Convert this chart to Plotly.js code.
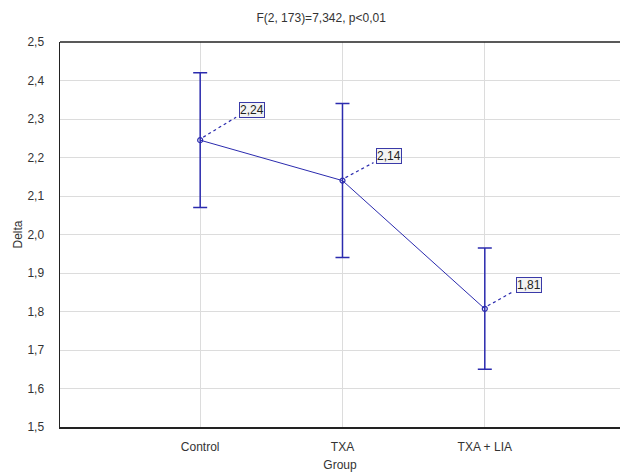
<!DOCTYPE html>
<html>
<head>
<meta charset="utf-8">
<script src="https://cdn.plot.ly/plotly-3.0.1.min.js"></script>
<style>html,body{margin:0;padding:0;background:#fff;overflow:hidden;}#chart{width:620px;height:475px;}</style>
</head>
<body>
<div id="chart"></div>
<script>
// ---- data ----
const groups = ["Control", "TXA", "TXA + LIA"];
const means = [2.245, 2.14, 1.807];
const ciUpper = [2.42, 2.34, 1.965];
const ciLower = [2.07, 1.94, 1.65];
const labels = ["2,24", "2,14", "1,81"];
const yTicks = [1.5, 1.6, 1.7, 1.8, 1.9, 2.0, 2.1, 2.2, 2.3, 2.4, 2.5];
const titleText = "F(2, 173)=7,342, p<0,01";

// ---- styles ----
const blue = "#2b2bae";
const font = "Liberation Sans, Arial, sans-serif";
const labelOffsets = [[52, -30], [47, -25], [44, -24]];
const W = 620, H = 475, M = {l: 60, r: 0, t: 42, b: 48};
const xRange = [-0.985, 2.95], yRange = [1.5, 2.5];
// pixel -> data unit conversion for the leader lines
const pxX = (xRange[1] - xRange[0]) / (W - M.l - M.r);
const pxY = (yRange[1] - yRange[0]) / (H - M.t - M.b);

const xs = groups.map((g, i) => i);

const trace = {
  x: xs,
  y: means,
  type: "scatter",
  mode: "lines+markers",
  line: {color: blue, width: 1},
  marker: {symbol: "circle-open", size: 5, color: blue, line: {width: 1.2, color: blue}},
  error_y: {
    type: "data",
    symmetric: false,
    array: ciUpper.map((u, i) => u - means[i]),
    arrayminus: means.map((m, i) => m - ciLower[i]),
    color: blue,
    thickness: 1.5,
    width: 7
  },
  hoverinfo: "skip"
};

const annotations = means.map((m, i) => ({
  x: xs[i], y: m, xref: "x", yref: "y",
  text: labels[i],
  showarrow: true,
  arrowcolor: "rgba(0,0,0,0)",
  ax: labelOffsets[i][0], ay: labelOffsets[i][1],
  font: {family: font, size: 12, color: "#222"},
  bgcolor: "#f3f3f3",
  bordercolor: "#3a3aa8",
  borderwidth: 1,
  borderpad: 0
}));

const shapes = means.map((m, i) => ({
  type: "line",
  xref: "x", yref: "y",
  x0: xs[i] + 3 * pxX, y0: m + 3 * pxY,
  x1: xs[i] + (labelOffsets[i][0] - 16) * pxX,
  y1: m + (-labelOffsets[i][1] - 7) * pxY,
  line: {color: blue, width: 1.2, dash: "3px,3px"}
}));
// top frame line of the plot area
shapes.push({
  type: "line", xref: "paper", yref: "paper",
  x0: 0, x1: 1, y0: 1, y1: 1,
  line: {color: "#222", width: 1.5}
});

const layout = {
  width: W, height: H,
  margin: M,
  paper_bgcolor: "#fff",
  plot_bgcolor: "#fff",
  showlegend: false,
  font: {family: font, size: 12, color: "#333"},
  title: {text: titleText, x: 0.518, xanchor: "center", y: 0.962, yanchor: "middle",
          font: {family: font, size: 12, color: "#333"}},
  xaxis: {
    range: xRange,
    tickmode: "array",
    tickvals: xs, ticktext: groups,
    showgrid: true, gridcolor: "#dcdcdc", gridwidth: 1,
    zeroline: false,
    showline: true, linecolor: "#222", linewidth: 1.5, mirror: false,
    ticks: "outside", ticklen: 8, tickcolor: "rgba(255,255,255,0)",
    title: {text: "Group", standoff: 7, font: {family: font, size: 12, color: "#333"}}
  },
  yaxis: {
    range: yRange,
    tickmode: "array",
    tickvals: yTicks, tickformat: ".1f",
    showgrid: true, gridcolor: "#dcdcdc", gridwidth: 1,
    zeroline: false,
    showline: true, linecolor: "#222", linewidth: 1.5, mirror: false,
    ticks: "outside", ticklen: 12, tickcolor: "rgba(255,255,255,0)",
    title: {text: "Delta", standoff: 2, font: {family: font, size: 12, color: "#333"}}
  },
  separators: ", ",
  annotations: annotations,
  shapes: shapes
};

Plotly.newPlot("chart", [trace], layout, {displayModeBar: false, staticPlot: true});
</script>
</body>
</html>
